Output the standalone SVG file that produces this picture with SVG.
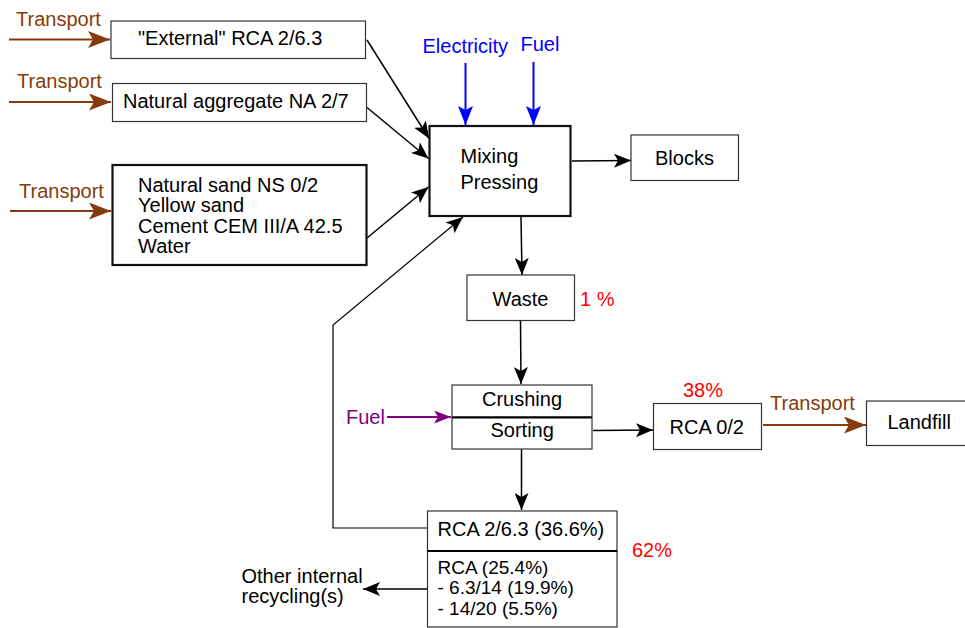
<svg xmlns="http://www.w3.org/2000/svg" width="965" height="628" viewBox="0 0 965 628">
<style>
text{font-family:"Liberation Sans",Arial,sans-serif;font-size:20px;fill:#000}
.sm{font-size:19px}
.box{fill:#fff;stroke:#333;stroke-width:1.2}
.thick{fill:#fff;stroke:#111;stroke-width:2.2}
.brown{fill:#843c0c}
.blue{fill:#0000ff}
.red{fill:#ff0000}
.purple{fill:#800080}
.c{stroke:#000;stroke-width:1.5;fill:none}
.cb{stroke:#843c0c;stroke-width:2;fill:none}
.cbl{stroke:#0000ff;stroke-width:2;fill:none}
.cp{stroke:#800080;stroke-width:2;fill:none}
</style>
<defs>
<marker id="ak" markerUnits="userSpaceOnUse" markerWidth="18" markerHeight="14" refX="17" refY="7" orient="auto"><path d="M0,0 L17,7 L0,14 L4,7 Z" fill="#000"/></marker>
<marker id="ab" markerUnits="userSpaceOnUse" markerWidth="23" markerHeight="17" refX="22" refY="8.5" orient="auto"><path d="M0,0 L22,8.5 L0,17 L5,8.5 Z" fill="#843c0c"/></marker>
<marker id="abl" markerUnits="userSpaceOnUse" markerWidth="20" markerHeight="15" refX="19" refY="7.5" orient="auto"><path d="M0,0 L19,7.5 L0,15 L4,7.5 Z" fill="#0000ff"/></marker>
<marker id="ap" markerUnits="userSpaceOnUse" markerWidth="18" markerHeight="13" refX="17" refY="6.5" orient="auto"><path d="M0,0 L17,6.5 L0,13 L4,6.5 Z" fill="#800080"/></marker>
</defs>

<g id="connectors">
<line class="cb" x1="9" y1="39.5" x2="110" y2="39.5" marker-end="url(#ab)"/>
<line class="cb" x1="9" y1="102" x2="111" y2="102" marker-end="url(#ab)"/>
<line class="cb" x1="10" y1="211" x2="111" y2="211" marker-end="url(#ab)"/>
<line class="cbl" x1="465.5" y1="63" x2="465.5" y2="125" marker-end="url(#abl)"/>
<line class="cbl" x1="533.5" y1="62" x2="533.5" y2="125" marker-end="url(#abl)"/>
<line class="c" x1="367" y1="40" x2="429" y2="138.5" marker-end="url(#ak)"/>
<line class="c" x1="367" y1="107.5" x2="428.5" y2="158.5" marker-end="url(#ak)"/>
<line class="c" x1="367" y1="238" x2="428.5" y2="187" marker-end="url(#ak)"/>
<polyline class="c" style="stroke-width:1.2" points="427,528 333,528 333,325 463,217" marker-end="url(#ak)"/>
<line class="c" x1="572" y1="161" x2="631" y2="160.5" marker-end="url(#ak)"/>
<line class="c" x1="521" y1="217" x2="522" y2="275" marker-end="url(#ak)"/>
<line class="c" x1="520.5" y1="321" x2="521" y2="384" marker-end="url(#ak)"/>
<line class="cp" x1="387" y1="417" x2="451" y2="417" marker-end="url(#ap)"/>
<line class="c" x1="593" y1="430.5" x2="653" y2="430" marker-end="url(#ak)"/>
<line class="cb" x1="763" y1="425" x2="866" y2="425" marker-end="url(#ab)"/>
<line class="c" x1="521.5" y1="449" x2="521.5" y2="510" marker-end="url(#ak)"/>
<line class="c" x1="427" y1="589" x2="363" y2="589" marker-end="url(#ak)"/>
</g>

<g id="transport1"><text class="brown" x="16" y="26">Transport</text></g>
<g id="transport2"><text class="brown" x="17" y="88">Transport</text></g>
<g id="transport3"><text class="brown" x="19" y="197.5">Transport</text></g>

<g id="external-rca"><rect class="box" x="111" y="21" width="254.5" height="37.5"/><text x="138" y="45">"External" RCA 2/6.3</text></g>
<g id="natural-aggregate"><rect class="box" x="112.5" y="83.5" width="254" height="38"/><text x="123" y="107.5">Natural aggregate NA 2/7</text></g>
<g id="sand-cement"><rect class="thick" x="112.5" y="165" width="254" height="100"/>
<text x="138" y="191.5">Natural sand NS 0/2</text>
<text x="138" y="212">Yellow sand</text>
<text x="138" y="232.5">Cement CEM III/A 42.5</text>
<text x="138" y="252.5">Water</text></g>

<g id="electricity"><text class="blue" x="422.5" y="53">Electricity</text></g>
<g id="fuel-top"><text class="blue" x="520.5" y="51">Fuel</text></g>

<g id="mixing"><rect class="thick" x="429.5" y="126" width="141" height="90"/><text x="460.5" y="163">Mixing</text><text x="460.5" y="189">Pressing</text></g>
<g id="blocks"><rect class="box" x="631" y="135" width="107.5" height="45.5"/><text x="655" y="165">Blocks</text></g>
<g id="waste"><rect class="box" x="467" y="275" width="107.5" height="45.5"/><text x="492.5" y="306">Waste</text><text class="red" x="580" y="306">1 %</text></g>

<g id="fuel-purple"><text class="purple" x="346" y="424">Fuel</text></g>
<g id="crushing-sorting"><rect class="box" x="452" y="385" width="140" height="64"/><line x1="452" y1="417.3" x2="592" y2="417.3" stroke="#000" stroke-width="2.2"/><text x="482" y="406">Crushing</text><text x="490.5" y="437">Sorting</text></g>

<g id="rca02"><rect class="box" x="653.5" y="403.5" width="108" height="46"/><text x="669.5" y="434">RCA 0/2</text><text class="red" x="683" y="396.5">38%</text></g>
<g id="transport4"><text class="brown" x="770" y="410">Transport</text></g>
<g id="landfill"><rect class="box" x="866.5" y="401" width="104" height="44.5"/><text x="887.5" y="428.5">Landfill</text></g>

<g id="rca-263"><rect class="box" x="427.5" y="511" width="189.5" height="40"/><text x="437.5" y="536">RCA 2/6.3 (36.6%)</text></g>
<g id="rca-coarse"><rect class="box" x="427.5" y="551" width="189.5" height="76"/><line x1="427.5" y1="551" x2="617" y2="551" stroke="#000" stroke-width="2"/>
<text class="sm" x="437.5" y="573.5">RCA (25.4%)</text>
<text class="sm" x="437.5" y="594">- 6.3/14 (19.9%)</text>
<text class="sm" x="437.5" y="614.5">- 14/20 (5.5%)</text></g>
<g id="pct62"><text class="red" x="632" y="557">62%</text></g>
<g id="other-recycling"><text x="241.5" y="582.5">Other internal</text><text x="241.5" y="603">recycling(s)</text></g>
</svg>
